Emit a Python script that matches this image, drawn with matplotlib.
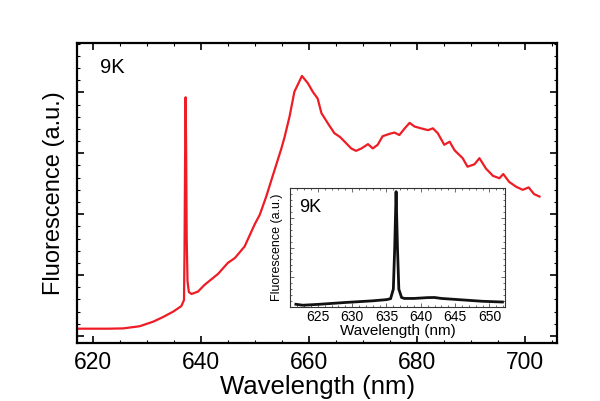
import matplotlib
matplotlib.use('Agg')
import matplotlib.pyplot as plt
from matplotlib.ticker import MultipleLocator, NullFormatter

plt.rcParams['font.family'] = ['Liberation Sans', 'DejaVu Sans']

# main spectrum (red)
main_wl = [617.2, 620, 623, 625.7, 628.7, 631.2, 633.0, 634.9, 636.4, 636.9,
           637.0, 637.1, 637.2, 637.3, 637.4, 637.55, 637.8, 638.3, 639.5, 640.7,
           643.2, 645.0, 646.3, 648.1, 650.0, 650.9, 652.1, 653.3, 654.9, 655.5,
           656.4, 657.3, 658.7, 659.8, 660.7, 661.6, 662.3, 663.5, 664.7, 665.7,
           666.6, 667.8, 668.7, 669.7, 670.9, 671.8, 672.7, 673.6, 674.9, 675.8,
           676.7, 677.7, 678.6, 679.5, 680.7, 682.0, 682.9, 683.8, 685.0, 686.0,
           686.9, 688.4, 689.3, 690.6, 691.5, 692.7, 694.0, 695.2, 695.9, 697.0,
           698.3, 699.5, 700.6, 701.6, 702.6]
main_fl = [0.12, 0.12, 0.12, 0.125, 0.16, 0.235, 0.31, 0.40, 0.49, 0.59,
           1.4, 2.9, 3.92, 3.0, 1.6, 0.9, 0.72, 0.69, 0.73, 0.84,
           1.02, 1.20, 1.28, 1.47, 1.84, 1.99, 2.29, 2.63, 3.08, 3.27,
           3.60, 4.01, 4.27, 4.15, 4.01, 3.90, 3.66, 3.49, 3.33, 3.27,
           3.19, 3.08, 3.04, 3.08, 3.15, 3.08, 3.14, 3.28, 3.32, 3.34,
           3.30, 3.41, 3.50, 3.44, 3.41, 3.38, 3.41, 3.33, 3.14, 3.19,
           3.05, 2.92, 2.78, 2.82, 2.92, 2.75, 2.63, 2.59, 2.66, 2.53,
           2.45, 2.40, 2.44, 2.33, 2.29]

# inset spectrum (black)
ins_wl = [621.8, 622.8, 625, 627, 629, 631, 633, 635, 635.6, 636.0, 636.2,
          636.4, 636.6, 636.8, 637.2, 637.6, 639, 641, 642, 643, 646, 649, 651.9]
ins_fl = [0.023, 0.015, 0.022, 0.03, 0.038, 0.045, 0.052, 0.062, 0.07, 0.15, 0.5,
          0.97, 0.5, 0.15, 0.08, 0.072, 0.072, 0.079, 0.08, 0.072, 0.06, 0.048, 0.042]

fig = plt.figure(figsize=(6, 4.01), dpi=100)
ax = fig.add_axes([0.129, 0.1454, 0.799, 0.7466])
ax.plot(main_wl, main_fl, color='#ee1c25', lw=1.6)
ax.set_xlim(617.2, 705.8)
ax.set_ylim(-0.11, 4.806)
ax.xaxis.set_major_locator(MultipleLocator(20))
ax.xaxis.set_minor_locator(MultipleLocator(5))
ax.yaxis.set_major_locator(MultipleLocator(1))
ax.yaxis.set_minor_locator(MultipleLocator(0.2))
ax.yaxis.set_major_formatter(NullFormatter())
ax.tick_params(which='both', direction='in', top=True, right=True, width=1.2)
ax.tick_params(which='major', length=5, labelsize=16.5, pad=6)
ax.tick_params(which='minor', length=2.5, width=0.8)
for s in ax.spines.values():
    s.set_linewidth(1.6)
ax.set_xlabel('Wavelength (nm)', fontsize=18.5, labelpad=1)
ax.set_ylabel('Fluorescence (a.u.)', fontsize=17, labelpad=3)
ax.text(0.048, 0.9, '9K', transform=ax.transAxes, fontsize=14.5)

ins = fig.add_axes([0.484, 0.2344, 0.358, 0.2966])
ins.plot(ins_wl, ins_fl, color='#111111', lw=2.0)
ins.set_xlim(621.0, 652.3)
ins.set_ylim(0, 1.0)
ins.xaxis.set_major_locator(MultipleLocator(5))
ins.xaxis.set_minor_locator(MultipleLocator(1))
ins.yaxis.set_major_locator(MultipleLocator(0.25))
ins.yaxis.set_minor_locator(MultipleLocator(0.05))
ins.yaxis.set_major_formatter(NullFormatter())
ins.tick_params(which='both', direction='in', top=True, right=True, width=0.6,
                color='#555555')
ins.tick_params(which='major', length=3, labelsize=10, pad=2)
ins.tick_params(which='minor', length=1.5)
for s in ins.spines.values():
    s.set_linewidth(0.8)
    s.set_color('#333333')
ins.set_xlabel('Wavelength (nm)', fontsize=11, labelpad=0)
ins.set_ylabel('Fluorescence (a.u.)', fontsize=9, labelpad=2)
ins.text(0.04, 0.8, '9K', transform=ins.transAxes, fontsize=13)

fig.savefig('out.png', dpi=100)
